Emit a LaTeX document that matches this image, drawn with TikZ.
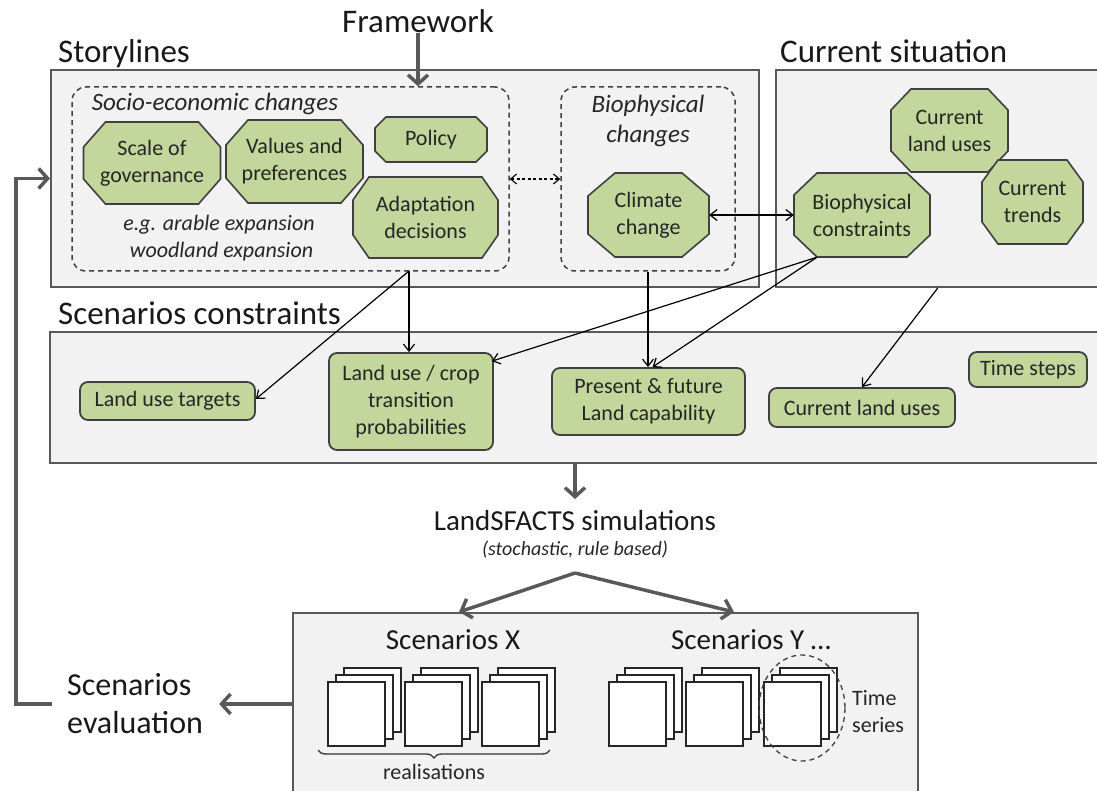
\documentclass[tikz,border=0pt]{standalone}
\usepackage{fontspec}
\setmainfont{Carlito}
\usetikzlibrary{arrows.meta,decorations.pathreplacing}
\definecolor{bgray}{HTML}{F2F2F2}
\definecolor{boxline}{HTML}{595959}
\definecolor{leaf}{HTML}{C3D69B}
\definecolor{octline}{HTML}{404040}
\definecolor{agray}{HTML}{595959}
\tikzset{
  graybox/.style={draw=boxline, line width=2pt, fill=bgray, inner sep=0pt},
  dashbox/.style={draw=octline, line width=1.5pt, dash pattern=on 5pt off 4pt, rounded corners=14pt, inner sep=0pt},
  octshape/.style={draw=octline, line width=1.6pt, fill=leaf, line join=miter},
  octtext/.style={inner sep=0pt, align=center, font=\fontsize{22}{27}\selectfont, text=black!85},
  consbox/.style={draw=octline, line width=1.8pt, fill=leaf, rounded corners=8pt, inner sep=0pt, align=center, font=\fontsize{22}{27}\selectfont, text=black!85},
  title/.style={inner sep=0pt, font=\fontsize{33}{40}\selectfont, text=black!90},
  thinarrow/.style={draw=black, line width=1.2pt, -{Straight Barb[length=7pt,width=11pt]}},
  thinboth/.style={draw=black, line width=1.2pt, {Straight Barb[length=7pt,width=11pt]}-{Straight Barb[length=7pt,width=11pt]}},
  dashboth/.style={draw=black, line width=1.1pt, dash pattern=on 3pt off 2.5pt, {Straight Barb[length=6pt,width=10pt]}-{Straight Barb[length=6pt,width=10pt]}},
  thickarrow/.style={draw=agray, line width=3.5pt, -{Straight Barb[length=9pt,width=20pt]}},
  page/.style={draw=black!85, fill=white, line width=1.3pt},
}
\newcommand\myoct[8]{%
  \draw[octshape] (#2-#4+#6,#3-#5) -- (#2+#4-#6,#3-#5) -- (#2+#4,#3-#5+#7) -- (#2+#4,#3+#5-#7) -- (#2+#4-#6,#3+#5) -- (#2-#4+#6,#3+#5) -- (#2-#4,#3+#5-#7) -- (#2-#4,#3-#5+#7) -- cycle;
  \node[octtext, minimum width=2*#4, minimum height=2*#5] (#1) at (#2,#3) {#8};%
}
\newcommand\mystack[2]{%
  \foreach \d in {2,1,0} {\draw[page] (#1+8*\d,#2-7*\d) rectangle ++(57,64);}%
}
\begin{document}
\begin{tikzpicture}[x=1pt,y=-1pt]
\useasboundingbox[fill=white] (0,0) rectangle (1097,791);

% big gray boxes
\node[graybox, minimum width=708, minimum height=217] (story) at (405,178.5) {};
\node[graybox, minimum width=324.5, minimum height=217] (cs) at (937.75,178.5) {};
\node[graybox, minimum width=1050, minimum height=131] (cons) at (575,397.5) {};
\node[graybox, minimum width=625, minimum height=187] (bot) at (605.5,706.5) {};

% titles
\node[title, anchor=base] (fw) at (418,33) {Framework};
\node[title, anchor=base west] (tstory) at (58,63) {Storylines};
\node[title, anchor=base west] (tcs) at (780,63) {Current situation};
\node[title, anchor=base west] (tcons) at (58,325) {Scenarios constraints};

% dashed groups
\node[dashbox, minimum width=437, minimum height=184] (socio) at (290.5,179) {};
\node[dashbox, minimum width=174, minimum height=184] (bio) at (648,179) {};
\node[inner sep=0pt, anchor=base, font=\fontsize{25}{30}\selectfont\itshape, text=black!85] (tsocio) at (215,111) {Socio-economic changes};
\node[inner sep=0pt, align=center, font=\fontsize{25}{30}\selectfont\itshape, text=black!85] (tbio) at (648,121) {Biophysical\\changes};
\node[inner sep=0pt, align=center, font=\fontsize{22}{27}\selectfont\itshape, text=black!85] (eg) at (219,238) {e.g. arable expansion\\\ woodland expansion};

% octagons
\myoct{sg}{152}{163}{68.5}{41}{22}{25}{Scale of\\governance}
\myoct{vp}{294.5}{161.5}{68.5}{41.5}{22}{25}{Values and\\preferences}
\myoct{pol}{431}{139.5}{56}{22.5}{11}{11}{Policy}
\myoct{ad}{425.5}{217.5}{72.5}{40.5}{16}{23}{Adaptation\\decisions}
\myoct{cc}{648.5}{215}{60.5}{42}{27}{23}{Climate\\change}
\myoct{bioc}{862}{215}{68}{42}{23}{22}{Biophysical\\constraints}
\myoct{clu}{949.5}{130.5}{58.5}{41.5}{20}{21}{Current\\land uses}
\myoct{ct}{1032.5}{202}{50.5}{42}{16}{22}{Current\\trends}

% constraint boxes
\node[consbox, minimum width=175, minimum height=38] (lut) at (167.5,401) {Land use targets};
\node[consbox, minimum width=164, minimum height=97] (luc) at (411,401.5) {Land use / crop\\transition\\probabilities};
\node[consbox, minimum width=193, minimum height=67] (pf) at (648.5,401.5) {Present \& future\\Land capability};
\node[consbox, minimum width=186, minimum height=39] (clu2) at (862,407.5) {Current land uses};
\node[consbox, minimum width=118, minimum height=35] (tst) at (1028,369.5) {Time steps};

% arrows top part
\draw[thickarrow] (fw.south) -- (fw.south |- socio.north);
\draw[dashboth] (socio.east) -- (bio.west);
\draw[thinboth] (cc.east) -- (bioc.west);
\coordinate (sB) at (409,271);
\draw[thinarrow] (sB) -- (sB |- luc.north);
\draw[thinarrow] (sB) -- ([yshift=2pt]lut.east);
\draw[thinarrow] (bio.south) -- (bio.south |- pf.north);
\draw[thinarrow] ([xshift=-45pt]bioc.south) -- ([xshift=-2pt,yshift=-9pt]luc.north east);
\draw[thinarrow] ([xshift=-45pt]bioc.south) -- ([xshift=4pt]pf.north);
\draw[thinarrow] (cs.south) -- (clu2.north);

% simulations
\coordinate (simtop) at (575,499);
\draw[thickarrow] (cons.south) -- (simtop);
\node[inner sep=0pt, anchor=base, font=\fontsize{29}{34}\selectfont, text=black!90] (sim) at (575,530) {LandSFACTS simulations};
\node[inner sep=0pt, anchor=base, font=\fontsize{20}{24}\selectfont\itshape, text=black!85] (stoch) at (575,555) {(stochastic, rule based)};
\coordinate (split) at (575,573);
\draw[thickarrow] (split) -- ([xshift=-146.5pt]bot.north);
\draw[thickarrow] (split) -- ([xshift=128.5pt]bot.north);

% scenarios
\node[inner sep=0pt, anchor=base, font=\fontsize{29}{34}\selectfont, text=black!90] (sx) at (453,649) {Scenarios X};
\node[inner sep=0pt, anchor=base, font=\fontsize{29}{34}\selectfont, text=black!90] (sy) at (751,649) {Scenarios Y …};
\mystack{328}{682}
\mystack{405}{682}
\mystack{482}{682}
\mystack{609}{682}
\mystack{686}{682}
\mystack{764}{682}
\draw[line width=1.3pt, draw=black!75, dash pattern=on 5pt off 4pt] (802,708) ellipse [x radius=43, y radius=53];
\node[inner sep=0pt, anchor=west, align=left, font=\fontsize{22}{27}\selectfont, text=black!85] (tser) at (852,712) {Time\\series};
\draw[line width=1.3pt, draw=black!80, decorate, decoration={brace, amplitude=8pt}] (550,750) -- (318,750);
\node[inner sep=0pt, anchor=base, font=\fontsize{22}{27}\selectfont, text=black!85] (real) at (434,779) {realisations};

% evaluation and feedback
\node[inner sep=0pt, anchor=west, align=left, font=\fontsize{32}{38}\selectfont, text=black!90] (eval) at (67,704) {Scenarios\\evaluation};
\draw[thickarrow] (bot.west |- eval.east) -- ([xshift=16pt]eval.east);
\draw[thickarrow] ([xshift=-15pt]eval.west) -| ([xshift=-34pt]story.west) -- (story.west);
\end{tikzpicture}
\end{document}
